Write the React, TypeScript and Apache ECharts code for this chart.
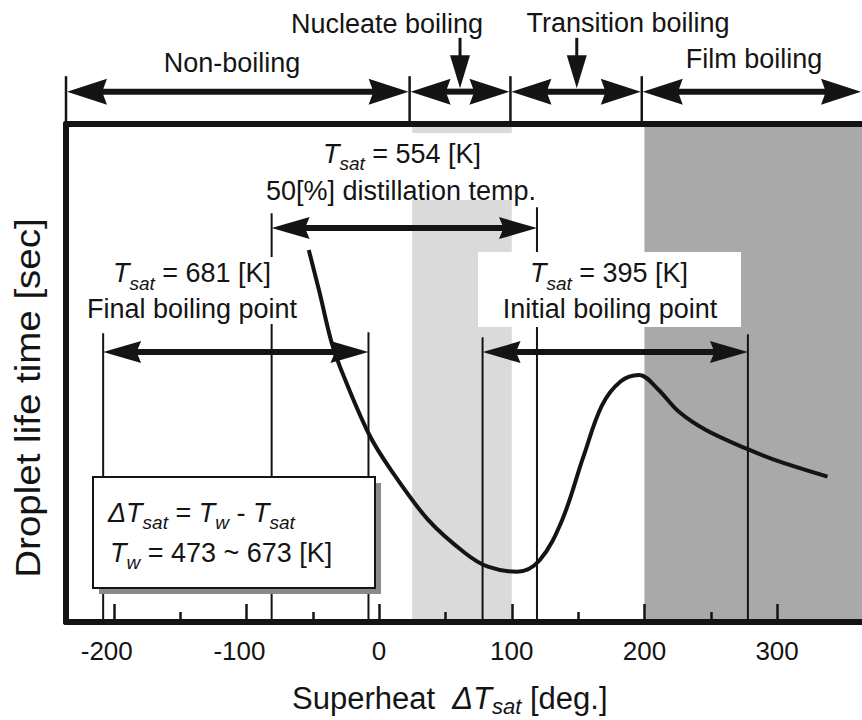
import React, { useEffect, useRef } from 'react';
import * as echarts from 'echarts';

const FONT = '"Liberation Sans", Arial, Helvetica, sans-serif';
const INK = '#141414';

// ---- axis ----
const xMin = -236;
const xMax = 364;
const xTickMajor = [-200, -100, 0, 100, 200, 300];
const xTickMinor = [-150, -50, 50, 150, 250];

// ---- droplet life time curve (arbitrary units, 0..100) ----
const curveX = [-53, -45, -36, -29, -8, 9, 37, 65, 82, 104, 121, 138, 154, 168, 182, 196, 210, 226, 246, 276, 302, 338];
const curveY = [74.7, 66.3, 56.3, 50.9, 37.9, 30.5, 20.5, 13.8, 11.1, 10.1, 12.4, 20.5, 33.2, 43.5, 48.3, 49.6, 46.8, 42.2, 38.6, 34.9, 32.2, 29.2];

// ---- shaded boiling regimes ----
const bandFrom = [25, 200];
const bandTo = [100, 364];

// ---- regime arrows above the plot ----
const regimeNames = ['Non-boiling', 'Nucleate boiling', 'Transition boiling', 'Film boiling'];
const regimeFrom = [-236, 23, 99, 198];
const regimeTo = [23, 99, 198, 364];
const regimeArrowY = 106.5;
const regimeTickTop = 109.6;
const pointerX = [61, 149];
const pointerTop = 117.3;
const pointerTip = 107.2;

// ---- Tw range (473~673 K) for each Tsat ----
const rangeFrom = [-208, -81, 78];
const rangeTo = [-8, 119, 278];
const rangeArrowY = [54.2, 79.1, 54.2];
const rangeFromTop = [58, 82.1, 57.2];
const rangeToTop = [58.2, 83.3, 57.8];

function richFor(size: number, lhFactor = 1.5) {
  const sub = Math.round(size * 0.7);
  const lh = Math.round(size * lhFactor);
  const pad = Math.round(size * (lhFactor - 0.75));
  return {
    i: { fontFamily: FONT, fontSize: size, fontStyle: 'italic', lineHeight: lh, color: INK },
    n: { fontFamily: FONT, fontSize: size, lineHeight: lh, color: INK },
    s: { fontFamily: FONT, fontSize: sub, fontStyle: 'italic', lineHeight: lh - pad, padding: [pad, 0, 0, 0], color: INK },
  };
}

function txt(x: number, y: number, text: string, size: number, align: string, extra: any = {}, lhFactor = 1.5) {
  return {
    type: 'text',
    x,
    y,
    z: 30,
    ...extra,
    style: {
      text,
      rich: richFor(size, lhFactor),
      fontFamily: FONT,
      fontSize: size,
      fill: INK,
      align,
      textAlign: align,
      verticalAlign: 'middle',
      textVerticalAlign: 'middle',
    },
  };
}

function hArrow(x1: number, x2: number, y: number, L: number, H: number, t: number) {
  const notch = L * 0.12;
  return [
    { type: 'rect', shape: { x: x1 + L - notch - 1, y: y - t / 2, width: x2 - x1 - 2 * (L - notch - 1), height: t }, style: { fill: INK } },
    { type: 'polygon', shape: { points: [[x1, y], [x1 + L, y - H / 2], [x1 + L - notch, y], [x1 + L, y + H / 2]] }, style: { fill: INK } },
    { type: 'polygon', shape: { points: [[x2, y], [x2 - L, y - H / 2], [x2 - L + notch, y], [x2 - L, y + H / 2]] }, style: { fill: INK } },
  ];
}

function vLine(x: number, y1: number, y2: number, w: number) {
  return { type: 'line', shape: { x1: x, y1, x2: x, y2 }, style: { stroke: INK, lineWidth: w } };
}

export default function App() {
  const ref = useRef<HTMLDivElement>(null);

  useEffect(() => {
    const chart = echarts.init(ref.current!, null, { renderer: 'svg' });

    const option: any = {
      animation: false,
      backgroundColor: '#ffffff',
      textStyle: { fontFamily: FONT },
      grid: { left: 66, right: 0, top: 124, bottom: 98, containLabel: false },
      xAxis: [
        {
          type: 'value', min: xMin, max: xMax, position: 'bottom', z: 10,
          axisLine: { show: true, onZero: false, lineStyle: { color: INK, width: 6 } },
          axisTick: { show: true, inside: true, length: 18, customValues: xTickMajor, lineStyle: { color: INK, width: 2.5 } },
          axisLabel: {
            show: true, customValues: xTickMajor, margin: 16, color: INK, fontSize: 26, fontFamily: FONT,
            formatter: (v: number) => (v < 0 ? `{m|${v}}` : `${v}`),
            rich: { m: { fontSize: 26, fontFamily: FONT, color: INK, padding: [0, 14, 0, 0] } },
          },
          splitLine: { show: false },
        },
        {
          type: 'value', min: xMin, max: xMax, position: 'bottom', z: 10,
          axisLine: { show: false, onZero: false },
          axisTick: { show: true, inside: true, length: 10, customValues: xTickMinor, lineStyle: { color: INK, width: 2.5 } },
          axisLabel: { show: false },
          splitLine: { show: false },
        },
        {
          type: 'value', min: xMin, max: xMax, position: 'top', z: 10,
          axisLine: { show: true, onZero: false, lineStyle: { color: INK, width: 6 } },
          axisTick: { show: false },
          axisLabel: { show: false },
          splitLine: { show: false },
        },
      ],
      yAxis: {
        type: 'value', min: 0, max: 100, z: 10,
        axisLine: { show: true, onZero: false, lineStyle: { color: INK, width: 6 } },
        axisTick: { show: false },
        axisLabel: { show: false },
        splitLine: { show: false },
      },
      series: [
        {
          type: 'custom', name: 'bands', z: 1, clip: false,
          data: bandFrom.map((f, i) => [f, bandTo[i]]),
          renderItem: (params: any, api: any) => {
            const a = api.coord([api.value(0), 100]);
            const b = api.coord([api.value(1), 0]);
            const top = a[1] + 3;
            return {
              type: 'rect',
              shape: { x: a[0], y: top, width: b[0] - a[0], height: b[1] - top },
              style: { fill: params.dataIndex === 0 ? '#dadada' : '#a9a9a9' },
            };
          },
        },
        {
          type: 'custom', name: 'ranges', z: 3, clip: false,
          data: rangeFrom.map((f, i) => [f, rangeTo[i], rangeArrowY[i], rangeFromTop[i], rangeToTop[i]]),
          renderItem: (params: any, api: any) => {
            const x1 = api.value(0), x2 = api.value(1), ya = api.value(2);
            const pA = api.coord([x1, ya]);
            const pB = api.coord([x2, ya]);
            const t1 = api.coord([x1, api.value(3)]);
            const t2 = api.coord([x2, api.value(4)]);
            const b1 = api.coord([x1, 0]);
            return {
              type: 'group',
              children: [
                vLine(t1[0], t1[1], b1[1], 2),
                vLine(t2[0], t2[1], b1[1], 2),
                ...hArrow(pA[0], pB[0], pA[1], 38, 22, 6),
              ],
            };
          },
        },
        {
          type: 'custom', name: 'regimes', z: 3, clip: false,
          data: regimeFrom.map((f, i) => [f, regimeTo[i]]),
          renderItem: (params: any, api: any) => {
            const x1 = api.value(0), x2 = api.value(1);
            const pA = api.coord([x1, regimeArrowY]);
            const pB = api.coord([x2, regimeArrowY]);
            const tt = api.coord([x1, regimeTickTop]);
            const tb = api.coord([x1, 100]);
            return {
              type: 'group',
              children: [vLine(tt[0], tt[1], tb[1], 2.5), ...hArrow(pA[0] + 1, pB[0] - 1, pA[1], 40, 26, 6)],
            };
          },
        },
        {
          type: 'custom', name: 'pointers', z: 3, clip: false,
          data: pointerX.map((x) => [x, pointerTop]),
          renderItem: (params: any, api: any) => {
            const top = api.coord([api.value(0), pointerTop]);
            const tip = api.coord([api.value(0), pointerTip]);
            const L = 33, W = 20;
            return {
              type: 'group',
              children: [
                { type: 'line', shape: { x1: top[0], y1: top[1], x2: tip[0], y2: tip[1] - L + 2 }, style: { stroke: INK, lineWidth: 3 } },
                { type: 'polygon', shape: { points: [[tip[0] - W / 2, tip[1] - L], [tip[0] + W / 2, tip[1] - L], [tip[0], tip[1]]] }, style: { fill: INK } },
              ],
            };
          },
        },
        {
          type: 'line', name: 'Droplet life time', z: 4,
          data: curveX.map((x, i) => [x, curveY[i]]),
          smooth: 0.35,
          showSymbol: false,
          symbol: 'none',
          lineStyle: { color: INK, width: 4 },
        },
      ],
      graphic: [
        // white label backgrounds
        { type: 'rect', z: 20, shape: { x: 256, y: 133, width: 290, height: 67 }, style: { fill: '#ffffff' } },
        { type: 'rect', z: 20, shape: { x: 80, y: 257, width: 226, height: 67 }, style: { fill: '#ffffff' } },
        { type: 'rect', z: 20, shape: { x: 478, y: 252, width: 263, height: 75 }, style: { fill: '#ffffff' } },
        // formula box
        { type: 'rect', z: 20, shape: { x: 99, y: 483, width: 282, height: 111 }, style: { fill: '#8a8a8a' } },
        { type: 'rect', z: 21, shape: { x: 93, y: 477, width: 282, height: 111 }, style: { fill: '#ffffff', stroke: INK, lineWidth: 2 } },
        txt(108, 512.5, '{i|ΔT}{s|sat}{n| = }{i|T}{s|w}{n| - }{i|T}{s|sat}', 27, 'left'),
        txt(110, 552.5, '{i|T}{s|w}{n| = 473 ~ 673 [K]}', 27, 'left'),
        // annotations
        txt(402, 153.5, '{i|T}{s|sat}{n| = 554 [K]}', 27, 'center'),
        txt(401, 191, '{n|50[%] distillation temp.}', 27, 'center'),
        txt(192, 273, '{i|T}{s|sat}{n| = 681 [K]}', 27, 'center'),
        txt(192, 308.5, '{n|Final boiling point}', 27, 'center'),
        txt(609, 273, '{i|T}{s|sat}{n| = 395 [K]}', 27, 'center'),
        txt(610, 308.5, '{n|Initial boiling point}', 27, 'center'),
        // regime labels
        txt(232, 63, `{n|${regimeNames[0]}}`, 27, 'center'),
        txt(387, 24, `{n|${regimeNames[1]}}`, 27, 'center'),
        txt(628, 22.5, `{n|${regimeNames[2]}}`, 27, 'center'),
        txt(754, 59, `{n|${regimeNames[3]}}`, 27, 'center'),
        // axis titles
        txt(292, 698, '{n|Superheat  }{i|ΔT}{s|sat}{n| [deg.]}', 31, 'left', {}, 1.25),
        txt(28, 398, '{n|Droplet life time [sec]}', 35, 'center', { rotation: Math.PI / 2, scaleX: 1.1 }),
      ],
    };

    chart.setOption(option);
    return () => chart.dispose();
  }, []);

  return (
    <div
      ref={ref}
      style={{ position: 'fixed', left: 0, top: 0, width: 862, height: 720, background: '#ffffff' }}
    />
  );
}
